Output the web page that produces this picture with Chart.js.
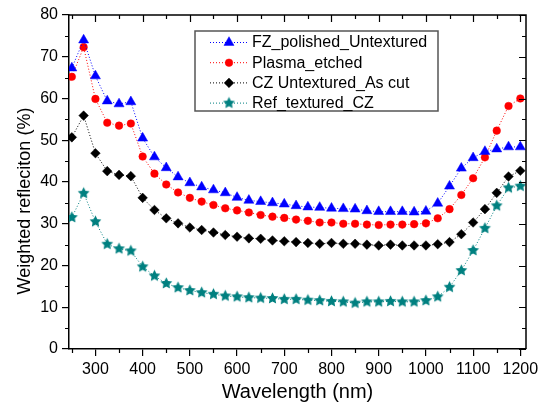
<!DOCTYPE html>
<html><head><meta charset="utf-8">
<script src="https://cdn.jsdelivr.net/npm/chart.js@4.4.1/dist/chart.umd.min.js"></script>
<style>html,body{margin:0;padding:0;background:#fff}#wrap{width:550px;height:408px}</style>
</head><body><div id="wrap"><canvas id="c" width="550" height="408"></canvas></div>
<script>
const wavelengths = [250,275,300,325,350,375,400,425,450,475,500,525,550,575,600,625,650,675,700,725,750,775,800,825,850,875,900,925,950,975,1000,1025,1050,1075,1100,1125,1150,1175,1200];
const fzPolishedUntextured = [67.3,74.0,65.4,59.4,58.7,59.2,50.5,46.0,43.4,41.2,39.8,38.8,38.1,37.4,36.3,35.6,35.3,35.0,34.7,34.3,34.0,33.9,33.7,33.6,33.5,33.1,32.9,32.9,32.9,32.8,33.0,34.9,39.0,43.3,45.8,47.3,47.9,48.4,48.4];
const plasmaEtched = [65.2,72.3,59.9,54.2,53.5,54.0,46.1,42.0,39.4,37.5,36.2,35.3,34.5,33.7,33.2,32.7,32.1,31.7,31.4,31.0,30.7,30.3,30.3,30.0,30.0,29.8,29.7,29.8,29.8,29.9,30.1,31.3,33.5,36.9,40.9,45.9,52.3,58.2,60.0];
const czUntexturedAsCut = [50.7,55.9,46.9,42.6,41.7,41.4,36.2,33.3,31.3,30.1,29.1,28.5,27.9,27.3,26.9,26.5,26.4,26.0,25.8,25.6,25.4,25.2,25.4,25.2,25.2,25.0,24.8,25.0,24.8,24.8,24.8,25.1,25.6,27.5,30.3,33.5,37.4,41.3,42.7];
const refTexturedCZ = [31.5,37.3,30.5,25.1,24.0,23.5,19.7,17.5,15.7,14.7,14.0,13.5,13.1,12.7,12.5,12.3,12.2,12.1,11.9,11.9,11.7,11.6,11.4,11.3,11.0,11.3,11.3,11.4,11.3,11.3,11.6,12.5,14.8,18.8,23.6,28.9,34.3,38.6,39.0];
const seriesLabels = ['FZ_polished_Untextured','Plasma_etched','CZ Untextured_As cut','Ref_textured_CZ'];
const xTickValues = [300,400,500,600,700,800,900,1000,1100,1200];
const xMinorTickValues = [250,350,450,550,650,750,850,950,1050,1150];
const yTickValues = [0,10,20,30,40,50,60,70,80];
const yMinorTickValues = [5,15,25,35,45,55,65,75];
const xTitle = 'Wavelength (nm)';
const yTitle = 'Weighted refleciton (%)';

const FONT = "'Liberation Sans', Arial, sans-serif";

function makeStar(color, r) {
  const s = Math.ceil(r * 2) + 2;
  const c = document.createElement('canvas');
  c.width = s; c.height = s;
  const g = c.getContext('2d');
  g.fillStyle = color;
  g.beginPath();
  for (let i = 0; i < 10; i++) {
    const ang = -Math.PI / 2 + i * Math.PI / 5;
    const rr = (i % 2) ? r * 0.5 : r;
    g.lineTo(s / 2 + rr * Math.cos(ang), s / 2 + rr * Math.sin(ang));
  }
  g.closePath();
  g.fill();
  return c;
}
const starImg = makeStar('#008080', 6.2);

function pts(arr) { return wavelengths.map((w, i) => ({x: w, y: arr[i]})); }

const seriesValues = [fzPolishedUntextured, plasmaEtched, czUntexturedAsCut, refTexturedCZ];
const seriesStyles = [
  {color: '#0000ff', pointStyle: 'triangle', radius: 5.8},
  {color: '#ff0000', pointStyle: 'circle', radius: 3.8},
  {color: '#000000', pointStyle: 'rectRot', radius: 4.8},
  {color: '#008080', pointStyle: starImg, radius: 6}
];

const datasets = seriesValues.map((vals, i) => ({
  label: seriesLabels[i],
  data: pts(vals),
  borderColor: seriesStyles[i].color,
  backgroundColor: seriesStyles[i].color,
  borderWidth: 1,
  borderDash: [1, 2],
  tension: 0,
  pointStyle: seriesStyles[i].pointStyle,
  pointRadius: seriesStyles[i].radius,
  pointBorderWidth: 0.5,
  pointBorderColor: seriesStyles[i].color,
  pointBackgroundColor: seriesStyles[i].color
}));

const framePlugin = {
  id: 'frame',
  afterDraw(chart) {
    const {ctx, chartArea: a, scales: {x, y}} = chart;
    ctx.save();
    ctx.strokeStyle = '#000';
    ctx.lineWidth = 1.5;
    ctx.beginPath();
    ctx.moveTo(a.left, a.top); ctx.lineTo(a.right, a.top); ctx.lineTo(a.right, a.bottom);
    ctx.stroke();
    ctx.lineWidth = 1.2;
    ctx.beginPath();
    xTickValues.forEach(v => { const p = Math.round(x.getPixelForValue(v)) + 0.5; ctx.moveTo(p, a.top); ctx.lineTo(p, a.top + 7); });
    xMinorTickValues.forEach(v => { const p = Math.round(x.getPixelForValue(v)) + 0.5;
      ctx.moveTo(p, a.top); ctx.lineTo(p, a.top + 4);
      ctx.moveTo(p, a.bottom); ctx.lineTo(p, a.bottom + 4); });
    yTickValues.forEach(v => { const p = Math.round(y.getPixelForValue(v)) + 0.5; ctx.moveTo(a.right, p); ctx.lineTo(a.right - 7, p); });
    yMinorTickValues.forEach(v => { const p = Math.round(y.getPixelForValue(v)) + 0.5;
      ctx.moveTo(a.right, p); ctx.lineTo(a.right - 4, p);
      ctx.moveTo(a.left, p); ctx.lineTo(a.left - 4, p); });
    ctx.stroke();

    // y title
    ctx.fillStyle = '#000';
    ctx.font = '18px ' + FONT;
    ctx.textAlign = 'center';
    ctx.textBaseline = 'middle';
    ctx.translate(25, 201);
    ctx.rotate(-Math.PI / 2);
    ctx.fillText(yTitle, 0, 0);
    ctx.restore();

    // legend
    ctx.save();
    const bx = 195, by = 31, bw = 243, bh = 80;
    ctx.strokeStyle = '#555';
    ctx.lineWidth = 1.5;
    ctx.strokeRect(bx, by, bw, bh);
    ctx.font = '16px ' + FONT;
    ctx.textAlign = 'left';
    ctx.textBaseline = 'middle';
    chart.data.datasets.forEach((ds, i) => {
      const yy = 42.5 + i * 20.2;
      ctx.strokeStyle = ds.borderColor;
      ctx.lineWidth = 1;
      ctx.setLineDash([1, 2]);
      ctx.beginPath(); ctx.moveTo(210, yy); ctx.lineTo(248, yy); ctx.stroke();
      ctx.setLineDash([]);
      ctx.fillStyle = ds.backgroundColor;
      ctx.strokeStyle = ds.borderColor;
      ctx.lineWidth = 0.5;
      ctx.beginPath();
      Chart.helpers.drawPoint(ctx, {pointStyle: ds.pointStyle, radius: ds.pointRadius, borderWidth: 0.5, rotation: 0}, 229, yy);
      ctx.fillStyle = '#000';
      ctx.fillText(ds.label, 252, yy + 0.5);
    });
    ctx.restore();
  }
};

new Chart(document.getElementById('c'), {
  type: 'line',
  data: {datasets},
  options: {
    responsive: false,
    animation: false,
    devicePixelRatio: 1,
    layout: {padding: {top: 15, right: 24, left: 0, bottom: 0}},
    plugins: {legend: {display: false}, tooltip: {enabled: false}},
    scales: {
      x: {
        type: 'linear', min: 244, max: 1212,
        afterBuildTicks: s => { s.ticks = xTickValues.map(v => ({value: v})); },
        afterFit: s => { s.height = 59; },
        grid: {display: true, drawOnChartArea: false, drawTicks: true, tickLength: 7, color: '#000', lineWidth: 1.2},
        border: {display: true, color: '#000', width: 1.5},
        ticks: {font: {family: FONT, size: 16}, color: '#000', padding: 4, maxRotation: 0, autoSkip: false, callback: v => String(v)},
        title: {display: true, text: xTitle, font: {family: FONT, size: 20}, color: '#000', padding: {top: 0, bottom: 4}}
      },
      y: {
        type: 'linear', min: 0, max: 80,
        afterBuildTicks: s => { s.ticks = yTickValues.map(v => ({value: v})); },
        afterFit: s => { s.width = 69; },
        grid: {display: true, drawOnChartArea: false, drawTicks: true, tickLength: 7, color: '#000', lineWidth: 1.2},
        border: {display: true, color: '#000', width: 1.5},
        ticks: {font: {family: FONT, size: 16}, color: '#000', padding: 4, callback: v => String(v)}
      }
    }
  },
  plugins: [framePlugin]
});
</script></body></html>
